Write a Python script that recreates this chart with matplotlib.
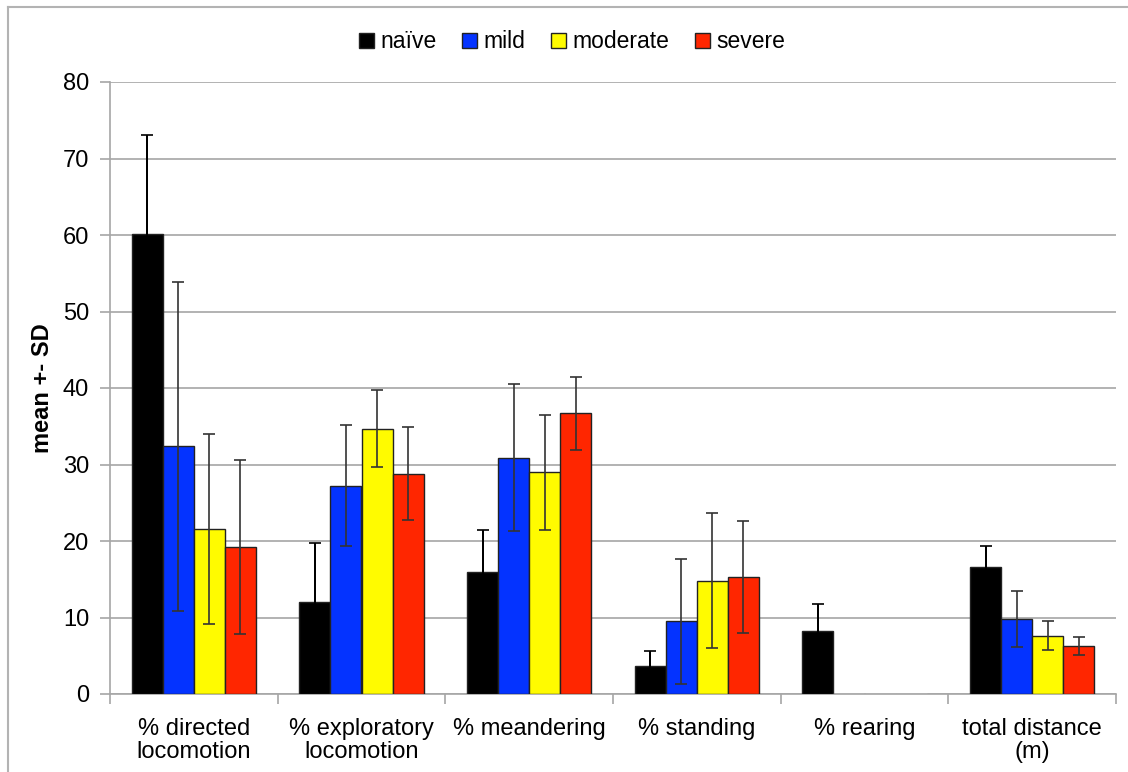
import matplotlib
matplotlib.use("Agg")
import matplotlib.pyplot as plt
import numpy as np
from matplotlib.lines import Line2D
from matplotlib.patches import Patch

plt.rcParams['font.family'] = ['Liberation Sans', 'DejaVu Sans']

categories = ["% directed\nlocomotion", "% exploratory\nlocomotion", "% meandering",
              "% standing", "% rearing", "total distance\n(m)"]
series = ["naïve", "mild", "moderate", "severe"]
colors = ["#000000", "#0433FF", "#FFFB00", "#FF2600"]

means = {
    "naïve":    [60.1, 12.0, 16.0, 3.7, 8.2, 16.6],
    "mild":     [32.4, 27.2, 30.9, 9.5, 0.0, 9.8],
    "moderate": [21.6, 34.7, 29.0, 14.8, 0.0, 7.6],
    "severe":   [19.2, 28.8, 36.7, 15.3, 0.0, 6.3],
}
sds = {
    "naïve":    [13.0, 7.8, 5.4, 1.9, 3.5, 2.8],
    "mild":     [21.5, 7.9, 9.6, 8.2, 0.0, 3.7],
    "moderate": [12.4, 5.0, 7.5, 8.8, 0.0, 1.9],
    "severe":   [11.4, 6.1, 4.8, 7.3, 0.0, 1.2],
}

fig = plt.figure(figsize=(11.28, 7.72), dpi=100)
ax = fig.add_axes([110/1128, 1-694/772, (1116-110)/1128, (694-82)/772])

x = np.arange(len(categories))
w = 0.185
for i, s in enumerate(series):
    pos = x + (i - 1.5) * w
    m = np.array(means[s])
    e = np.array(sds[s])
    edge = ["#222222" if v > 0 else "#cccccc" for v in m]
    ax.bar(pos, m, width=w, color=colors[i], edgecolor=edge, linewidth=1.0, zorder=3)
    mask = e > 0
    ecol = '#000000' if i == 0 else '#333333'
    ax.errorbar(pos[mask], m[mask], yerr=e[mask], fmt='none', ecolor=ecol,
                elinewidth=1.2, capsize=4, capthick=1.2, zorder=4,
                antialiased=False if i == 0 else True)

ax.set_xlim(-0.5, len(categories) - 0.5)
ax.set_ylim(0, 80)
ax.set_yticks(np.arange(0, 81, 10))
ax.yaxis.grid(True, color='#a6a6a6', linewidth=1.2, zorder=0)
ax.set_axisbelow(True)

ax.set_xticks(x)
ax.set_xticklabels(categories, fontsize=17, linespacing=1.1)
ax.tick_params(axis='x', length=0, pad=17)
ax.set_xticks(np.arange(-0.5, len(categories)), minor=True)
ax.tick_params(axis='x', which='minor', length=7, color='#a6a6a6', width=1.2, direction='out')
ax.tick_params(axis='y', labelsize=17, length=7, color='#a6a6a6', width=1.2, pad=8)

for sp in ['top', 'right']:
    ax.spines[sp].set_visible(False)
for sp in ['left', 'bottom']:
    ax.spines[sp].set_color('#a6a6a6')
    ax.spines[sp].set_linewidth(1.2)

ax.set_ylabel("mean +- SD", fontsize=17, fontweight='bold')
ax.yaxis.set_label_coords(-0.056, 0.5)

handles = [Patch(facecolor=c, edgecolor='#222222', linewidth=1.0) for c in colors]
fig.legend(handles, series, loc='center', bbox_to_anchor=(572/1128, 1-42/772), ncol=4,
           frameon=False, fontsize=16.5, handlelength=0.65, handleheight=0.65,
           handletextpad=0.3, columnspacing=1.1)

# outer frame
fig.add_artist(Line2D([7.5/1128, 7.5/1128], [0, 1-6.5/772], transform=fig.transFigure,
                      color='#b3b3b3', linewidth=1.5))
fig.add_artist(Line2D([7.5/1128, 1], [1-6.5/772, 1-6.5/772], transform=fig.transFigure,
                      color='#b3b3b3', linewidth=1.5))

fig.savefig("out.png", dpi=100)
